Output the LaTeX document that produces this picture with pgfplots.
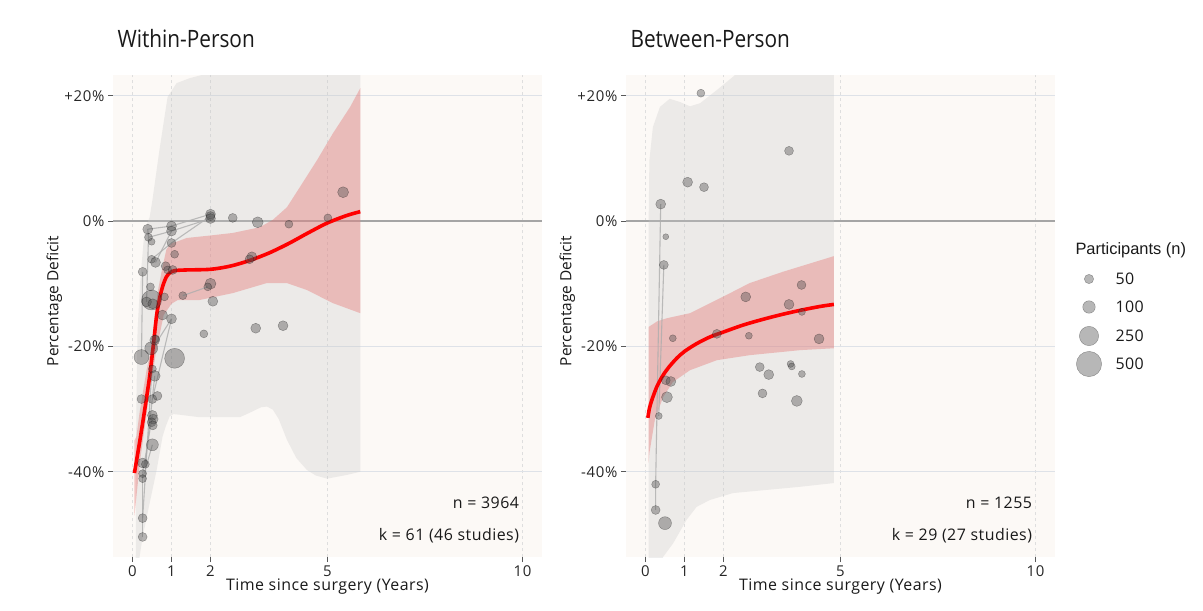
\documentclass[border=0pt]{standalone}
\usepackage{pgfplots}
\pgfplotsset{compat=1.18}
\usepackage{fontspec}
\setmainfont{Open Sans}
\newfontfamily\titlefont[FakeStretch=0.87]{Open Sans}
\newfontfamily\legfont{Liberation Sans}
\newfontfamily\lsfont[LetterSpace=3]{Open Sans}
\newfontfamily\tkfont[LetterSpace=5]{Open Sans}
\definecolor{panelbg}{RGB}{252,249,246}
\definecolor{hgrid}{RGB}{222,226,232}
\definecolor{zeroline}{RGB}{165,165,165}
\definecolor{vgrid}{RGB}{222,222,222}
\definecolor{pigray}{RGB}{200,200,200}
\definecolor{ciRed}{RGB}{230,100,100}

\tikzset{annot/.style={anchor=base east, font=\lsfont\fontsize{16}{18}\selectfont, black!90}}
\pgfplotsset{
  myaxis/.style={
    scale only axis, width=429bp, height=482bp,
    xmin=-0.5, xmax=10.5, ymin=-53.6, ymax=23.3,
    axis background/.style={fill=panelbg},
    axis line style={draw=none},
    xtick={0,1,2,5,10}, ytick={-40,-20,0,20},
    yticklabels={-40\%,-20\%,0\%,+20\%},
    xticklabels={0,1,2,5,10},
    xtick pos=bottom, ytick pos=left,
    tick align=outside, major tick length=5bp,
    tick style={black!65, line width=0.6bp},
    ticklabel style={font=\tkfont\fontsize{15}{17}\selectfont, black!85},
    xmajorgrids, ymajorgrids,
    x grid style={vgrid, dash pattern=on 3bp off 3bp, line width=0.6bp},
    y grid style={hgrid, line width=1bp},
    xlabel={Time since surgery (Years)}, ylabel={Percentage Deficit},
    xlabel style={font=\lsfont\fontsize{16}{18}\selectfont, black!90, at={(axis description cs:0.5,-0.062)}, anchor=center},
    ylabel style={font=\fontsize{15.5}{18}\selectfont, black!90, at={(axis description cs:-0.137,0.531)}, anchor=center},
    clip=true,
  },
  pts/.style={scatter, only marks, mark=*,
    scatter/use mapped color={draw=black, fill=black!70, fill opacity=0.4, draw opacity=0.35},
    visualization depends on={\thisrow{r}\as\rr},
    scatter/@pre marker code/.append style={/tikz/mark size=\rr, /tikz/line width=0.7bp}},
  link/.style={draw=black!32, line width=1.1bp, draw opacity=0.8},
  piband/.style={fill=pigray, fill opacity=0.3, draw=none},
  ciband/.style={fill=ciRed, fill opacity=0.35, draw=none},
  fitline/.style={red, line width=3.6bp, smooth},
}

\begin{document}
\begin{tikzpicture}
\useasboundingbox (0,0) rectangle (1203bp,-611bp);
\node[anchor=base west, font=\titlefont\fontsize{24}{28}\selectfont, black!90] at (114bp,-47bp) {Within-Person};
\node[anchor=base west, font=\titlefont\fontsize{24}{28}\selectfont, black!90] at (627bp,-47bp) {Between-Person};

% ---------------- Within-Person ----------------
\begin{axis}[myaxis, at={(113bp,-75bp)}, anchor=north west]
\addplot[zeroline, line width=1.5bp] coordinates {(-0.5,0) (10.5,0)};
\addplot[piband] coordinates {
(0.08,-60) (0.09,-40) (0.10,-28.5) (0.13,-17.4) (0.20,-9.4) (0.31,-1.4) (0.44,0.6)
(0.51,3.3) (0.69,11.3) (0.90,19.8) (1.13,22.0) (1.47,22.8) (1.90,23.5) (2.30,24.5) (5.84,30)
(5.84,-40.0) (5.50,-40.5) (4.99,-41.1) (4.70,-40.6) (4.47,-39.7) (4.20,-37.8) (3.96,-34.9) (3.75,-31.6) (3.60,-30.1) (3.45,-29.6) (3.30,-29.7)
(3.00,-30.6) (2.75,-31.3) (1.72,-31.3) (1.21,-30.9) (1.05,-30.8) (0.95,-31.2) (0.85,-32.8) (0.77,-34.4) (0.62,-39.7) (0.44,-45)
(0.26,-50.4) (0.18,-53.6) (0.14,-60)} --cycle;
\addplot[ciband] coordinates {
(0.05,-35) (0.10,-34.4) (0.18,-30.6) (0.36,-23.8) (0.49,-20) (0.57,-15.3) (0.64,-11.5)
(0.77,-7.3) (0.87,-4.5) (1.00,-3.5) (1.13,-3.3) (1.39,-2.7) (2.00,-2.3) (2.57,-1.9)
(3.26,-1.0) (3.60,0.2) (3.96,2.2) (4.29,5.4) (4.73,9.7) (5.14,14.0) (5.58,18.2) (5.84,21.2)
(5.84,-14.7) (5.14,-13.1) (4.47,-11.0) (3.96,-9.9) (3.44,-9.9) (2.57,-11.5) (1.72,-12.6)
(1.16,-12.6) (1.00,-13.2) (0.80,-15) (0.60,-21) (0.40,-29) (0.20,-38) (0.10,-44) (0.05,-47)} --cycle;
% links between repeated measures
\addplot[link] coordinates {(0.26,-50.4) (0.26,-47.4) (0.26,-40.3)};
\addplot[link] coordinates {(0.26,-47.4) (0.50,-23.6)};
\addplot[link] coordinates {(0.26,-40.3) (0.51,-31.0)};
\addplot[link] coordinates {(0.33,-38.8) (0.57,-24.7)};
\addplot[link] coordinates {(0.26,-41.1) (0.51,-35.7)};
\addplot[link] coordinates {(0.36,-12.9) (0.41,-2.6) (0.39,-1.3)};
\addplot[link] coordinates {(0.39,-1.3) (1.00,-0.8) (2.00,1.1)};
\addplot[link] coordinates {(0.41,-2.6) (1.00,-1.6) (2.00,0.4)};
\addplot[link] coordinates {(0.49,-6.1) (1.00,-3.5) (2.00,0.8)};
\addplot[link] coordinates {(0.59,-6.6) (1.00,-1.6)};
\addplot[link] coordinates {(1.29,-11.9) (1.93,-10.5)};
\addplot[link] coordinates {(0.51,-20.4) (1.00,-15.6)};
\addplot[link] coordinates {(0.51,-28.4) (1.00,-15.6)};
\addplot[link] coordinates {(0.23,-21.7) (0.26,-8.1)};
\addplot[pts] table {
x y r
5.40 4.6 5.5
5.01 0.5 4
4.01 -0.5 4
3.21 -0.2 5.5
2.57 0.5 4.5
2.00 1.1 5
2.00 0.4 5
2.00 0.8 4.5
1.00 -0.8 5
1.00 -1.6 5
0.39 -1.3 5
0.41 -2.6 4
0.49 -3.3 3.5
1.00 -3.5 4.5
1.08 -5.3 4
0.49 -6.1 4
0.59 -6.6 5
0.26 -8.1 4.5
0.85 -7.2 4.5
0.90 -7.8 4
1.03 -7.8 4.5
3.06 -5.7 5
3.00 -6.1 4.5
2.00 -10.0 5.5
1.93 -10.5 4
1.29 -11.9 4
2.06 -12.8 5
0.46 -10.5 4
0.49 -12.6 10
0.36 -12.9 5
0.52 -13.2 5
0.82 -12.1 4
0.77 -15.0 5
1.00 -15.6 5
1.83 -18.0 4
3.16 -17.1 5
3.86 -16.7 5
0.59 -18.8 4
0.48 -20.3 6.5
0.57 -19.0 5
0.23 -21.7 7.5
1.08 -21.9 10
0.51 -23.6 4
0.57 -24.7 5.5
0.23 -28.4 4.5
0.51 -28.4 4.5
0.64 -27.9 4.5
0.51 -31.0 5
0.53 -31.6 5
0.49 -32.1 4.5
0.52 -32.6 4.5
0.51 -35.7 6
0.26 -38.6 5
0.33 -38.8 4
0.26 -40.3 4
0.26 -41.1 4
0.26 -47.4 4.5
0.26 -50.4 4.5
};
\addplot[fitline] coordinates {
(0.05,-40.2) (0.20,-34.6) (0.35,-28.6) (0.45,-24.3) (0.54,-19.5) (0.62,-15.0) (0.70,-12.2)
(0.78,-10.3) (0.87,-8.9) (0.97,-8.2) (1.10,-7.9) (1.40,-7.8) (2.00,-7.7)
(2.50,-7.2) (3.00,-6.3) (3.50,-5.1) (4.00,-3.6) (4.50,-1.9) (5.00,-0.3) (5.50,0.9) (5.84,1.5)};
\node[annot] at (axis cs:10,-45.9) {n = 3964};
\node[annot] at (axis cs:10,-51.0) {k = 61 (46 studies)};
\end{axis}

% ---------------- Between-Person ----------------
\begin{axis}[myaxis, at={(626bp,-75bp)}, anchor=north west]
\addplot[zeroline, line width=1.5bp] coordinates {(-0.5,0) (10.5,0)};
\addplot[piband] coordinates {
(0.08,-60) (0.08,0) (0.10,9.7) (0.19,15) (0.37,18.2) (0.62,19.5) (0.88,19) (1.14,18.3)
(1.40,18.8) (1.83,20.9) (2.24,23) (2.60,25) (4.83,30)
(4.83,-41.8) (3.96,-42.4) (2.24,-43.4) (1.65,-44.5) (1.31,-45.6) (1.05,-47.7) (0.71,-51.4)
(0.45,-53.6) (0.30,-60)} --cycle;
\addplot[ciband] coordinates {
(0.08,-16.9) (0.30,-16.0) (0.55,-15.5) (1.14,-14.7) (1.98,-12.1) (2.67,-9.9) (3.52,-8.1) (4.83,-5.6)
(4.83,-20.3) (3.96,-20.6) (2.67,-21.4) (1.83,-22.2) (1.14,-23.8) (0.70,-25.7) (0.45,-28.1)
(0.24,-31.7) (0.10,-37) (0.08,-38.6)} --cycle;
\addplot[link] coordinates {(0.26,-46.1) (0.26,-42.0) (0.39,2.7)};
\addplot[link] coordinates {(0.34,-31.1) (0.47,-7.0)};
\addplot[pts] table {
x y r
1.42 20.4 4
3.68 11.2 4.5
1.08 6.2 5
1.50 5.4 4.5
0.39 2.7 5
0.52 -2.5 3
0.47 -7.0 4.5
2.57 -12.1 5
4.00 -10.2 4.5
3.68 -13.3 5
4.01 -14.5 3.5
0.70 -18.7 3.5
1.83 -18.0 4.5
2.65 -18.3 3.5
4.45 -18.8 5
2.93 -23.3 4.5
3.16 -24.5 5
3.72 -22.8 3.5
3.75 -23.2 3.5
4.01 -24.4 3.5
3.00 -27.5 4.5
3.88 -28.7 5.5
0.52 -25.4 4.5
0.65 -25.6 5
0.55 -28.1 5.5
0.34 -31.1 3.5
0.26 -42.0 4
0.26 -46.1 4.5
0.50 -48.2 6.5
};
\addplot[fitline] coordinates {
(0.06,-31.4) (0.10,-29.9) (0.15,-28.8) (0.20,-27.9) (0.30,-26.3) (0.45,-24.6) (0.60,-23.3)
(0.80,-21.9) (1.00,-20.8) (1.30,-19.6) (1.65,-18.5) (2.00,-17.7) (2.50,-16.6) (3.00,-15.7)
(3.50,-14.9) (4.00,-14.2) (4.50,-13.6) (4.83,-13.3)};
\node[annot] at (axis cs:10,-45.9) {n = 1255};
\node[annot] at (axis cs:10,-51.0) {k = 29 (27 studies)};
\end{axis}

% ---------------- size legend ----------------
\begin{axis}[at={(1060bp,-260bp)}, anchor=north west, scale only axis,
  width=100bp, height=120bp, xmin=0, xmax=100, ymin=0, ymax=120,
  hide axis, clip=false]
\addplot[pts] table {
x y r
29 101 4.7
29 73 6.3
29 44 9.7
29 16 12.7
};
\node[anchor=west, font=\legfont\fontsize{16.5}{19}\selectfont, black!90] at (axis cs:12,130) {Participants (n)};
\node[anchor=west, font=\lsfont\fontsize{16}{18}\selectfont, black!90] at (axis cs:52,101) {50};
\node[anchor=west, font=\lsfont\fontsize{16}{18}\selectfont, black!90] at (axis cs:52,73) {100};
\node[anchor=west, font=\lsfont\fontsize{16}{18}\selectfont, black!90] at (axis cs:52,44) {250};
\node[anchor=west, font=\lsfont\fontsize{16}{18}\selectfont, black!90] at (axis cs:52,16) {500};
\end{axis}
\end{tikzpicture}
\end{document}
